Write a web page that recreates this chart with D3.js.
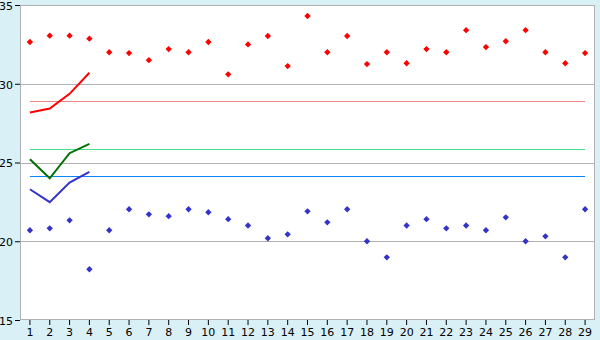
<!DOCTYPE html>
<html>
<head>
<meta charset="utf-8">
<script src="https://cdn.jsdelivr.net/npm/d3@7"></script>
<style>
  html, body { margin: 0; padding: 0; background: #d9f0f7; }
  svg { display: block; }
  .tick text { font-family: "DejaVu Sans", Verdana, sans-serif; font-size: 11px; fill: #000; }
</style>
</head>
<body>
<div id="chart"></div>
<script>
const W = 600, H = 340;
const MARGIN = { top: 5, right: 5, bottom: 20, left: 20 };

const categories = d3.range(1, 30).map(String);
const yTicks = [15, 20, 25, 30, 35];

// scatter series
const highPts = [32.65, 33.05, 33.05, 32.86, 32.0, 31.95, 31.5, 32.2, 32.0, 32.65,
                 30.6, 32.5, 33.03, 31.12, 34.3, 32.0, 33.03, 31.25, 32.0, 31.3,
                 32.2, 32.0, 33.4, 32.33, 32.7, 33.4, 32.0, 31.3, 31.95];
const lowPts  = [20.7, 20.82, 21.33, 18.22, 20.7, 22.03, 21.71, 21.59, 22.03, 21.84,
                 21.4, 21.0, 20.19, 20.44, 21.9, 21.2, 22.03, 20.0, 18.98, 21.0,
                 21.4, 20.82, 21.0, 20.7, 21.52, 20.0, 20.31, 18.98, 22.03];

// short lines over the first four categories
const redLine   = [28.17, 28.43, 29.36, 30.7];
const greenLine = [25.21, 24.0, 25.59, 26.18];
const blueLine  = [23.3, 22.48, 23.72, 24.4];

// reference levels
const refLines = [
  { value: 28.92, color: "#f08484" },
  { value: 25.85, color: "#44e08c" },
  { value: 24.15, color: "#0a84ff" }
];

const svg = d3.select("#chart").append("svg")
  .attr("width", W).attr("height", H);

const x = d3.scaleBand()
  .domain(categories)
  .range([MARGIN.left, W - MARGIN.right]);
const cx = c => x(c) + x.bandwidth() / 2;

const y = d3.scaleLinear()
  .domain([15, 35])
  .range([H - MARGIN.bottom, MARGIN.top]);

// plot area
svg.append("rect")
  .attr("x", MARGIN.left).attr("y", MARGIN.top)
  .attr("width", W - MARGIN.left - MARGIN.right)
  .attr("height", H - MARGIN.top - MARGIN.bottom)
  .attr("fill", "#fff");

// gridlines
svg.append("g").selectAll("line")
  .data([20, 25, 30])
  .join("line")
  .attr("x1", MARGIN.left).attr("x2", W - MARGIN.right)
  .attr("y1", d => Math.round(y(d)) + 0.5).attr("y2", d => Math.round(y(d)) + 0.5)
  .attr("stroke", "#b0b0b0");

// reference lines from first to last category
svg.append("g").selectAll("line")
  .data(refLines)
  .join("line")
  .attr("x1", cx(categories[0])).attr("x2", cx(categories[categories.length - 1]))
  .attr("y1", d => Math.round(y(d.value)) + 0.5).attr("y2", d => Math.round(y(d.value)) + 0.5)
  .attr("stroke", d => d.color);

// frame
svg.append("rect")
  .attr("x", MARGIN.left + 0.5).attr("y", MARGIN.top + 0.5)
  .attr("width", W - MARGIN.left - MARGIN.right - 1)
  .attr("height", H - MARGIN.top - MARGIN.bottom - 1)
  .attr("fill", "none").attr("stroke", "#b0b0b0");

// axes
const xAxis = svg.append("g")
  .attr("transform", `translate(0,${H - MARGIN.bottom})`)
  .call(d3.axisBottom(x).tickSize(5).tickPadding(3));
xAxis.select(".domain").remove();
xAxis.selectAll(".tick line").attr("stroke", "#000");

const yAxis = svg.append("g")
  .attr("transform", `translate(${MARGIN.left},0)`)
  .call(d3.axisLeft(y).tickValues(yTicks).tickSize(5).tickPadding(2));
yAxis.select(".domain").remove();
yAxis.selectAll(".tick line").attr("stroke", "#000");
yAxis.selectAll(".tick text").attr("dy", "0.4em");

// lines
const line = d3.line()
  .x((d, i) => cx(categories[i]))
  .y(d => y(d));

[[redLine, "#ff0000"], [greenLine, "#007000"], [blueLine, "#3333cc"]].forEach(([vals, col]) => {
  svg.append("path")
    .datum(vals)
    .attr("d", line)
    .attr("fill", "none")
    .attr("stroke", col)
    .attr("stroke-width", 2);
});

// markers: small square turned 45 degrees
const marker = d3.symbol(d3.symbolSquare, 20);
[[highPts, "#ff0000"], [lowPts, "#3333cc"]].forEach(([vals, col]) => {
  svg.append("g").selectAll("path")
    .data(vals)
    .join("path")
    .attr("transform", (d, i) => `translate(${cx(categories[i])},${y(d)}) rotate(45)`)
    .attr("d", marker)
    .attr("fill", col);
});
</script>
</body>
</html>
